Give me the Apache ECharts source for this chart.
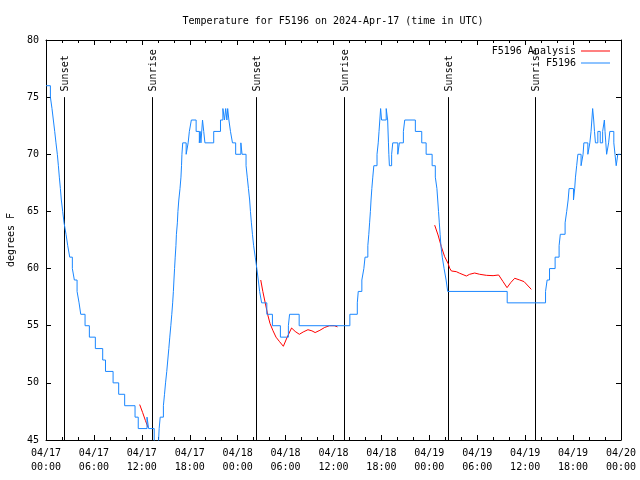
<!DOCTYPE html>
<html><head><meta charset="utf-8">
<script src="https://cdn.jsdelivr.net/npm/echarts@6/dist/echarts.min.js"></script>
<style>html,body{margin:0;padding:0;background:#fff}#c{width:640px;height:480px}</style>
</head><body><div id="c"></div>
<script>
const titleText = 'Temperature for F5196 on 2024-Apr-17 (time in UTC)';
const yAxisName = 'degrees F';
const xTickLabels = ['04/17\n00:00','04/17\n06:00','04/17\n12:00','04/17\n18:00','04/18\n00:00','04/18\n06:00','04/18\n12:00','04/18\n18:00','04/19\n00:00','04/19\n06:00','04/19\n12:00','04/19\n18:00','04/20\n00:00'];

// F5196 observed temperature (hours since 04/17 00:00 UTC, value holds until next time)
const blueHours = [0,0.55,0.75,0.92,1.09,1.25,1.42,1.55,1.67,1.80,1.92,2.09,2.26,2.51,2.72,2.97,3.30,3.55,3.89,4.14,4.35,4.89,5.43,6.18,7.1,7.45,8.4,9.1,9.85,11.15,11.55,12.65,12.85,13.55,13.8,14.1,14.17,14.3,14.7,14.84,14.97,15.12,15.25,15.38,15.5,15.63,15.75,15.86,15.95,16.02,16.1,16.18,16.27,16.33,16.45,16.52,16.63,16.78,16.9,16.97,17.02,17.12,17.55,17.8,17.95,18.2,18.8,19.2,19.3,19.4,19.6,19.75,19.9,21.0,21.85,22.15,22.35,22.5,22.65,22.75,22.9,23.1,23.35,23.75,24.4,24.55,25.05,25.2,25.35,25.5,25.6,25.72,25.85,26.0,26.2,26.4,26.58,26.75,27.0,27.65,28.35,29.35,30.35,30.5,31.7,38.05,38.98,39.1,39.55,39.8,39.95,40.3,40.42,40.52,40.62,40.7,40.8,40.92,41.05,41.45,41.6,41.7,41.8,41.9,42.02,42.6,42.78,42.88,42.93,43.0,43.28,43.42,44.05,44.25,44.75,44.92,46.25,47.05,47.6,48.35,48.75,48.95,49.05,49.15,49.25,49.35,49.45,49.62,49.85,50.1,50.3,57.75,62.55,62.75,63.05,63.75,64.25,64.4,65.0,65.2,65.38,65.5,66.05,66.2,66.3,66.45,66.6,67.0,67.25,67.35,67.85,68.1,68.25,68.35,68.45,68.58,68.68,68.8,69.1,69.4,69.7,69.92,70.0,70.1,70.2,70.45,70.6,71.1,71.25,71.4,71.6,71.95];
const blueTempF = [76,75,74,73,72,71,70,69,68,67,66,65,64,63,62,61,60,59,58,57,56,55,54,53,52,51,50,49,48,47,46,47,46,45,44,45,46,47,48,49,50,51,52,53,54,55,56,57,58,59,60,61,62,63,64,65,66,67,68,69,70,71,70,71,72,73,72,71,72,71,73,72,71,72,73,74,73,74,73,74,73,72,71,70,71,70,69,68,67,66,65,64,63,62,61,60,59,58,57,56,55,54,55,56,55,56,57,58,59,60,61,62,63,64,65,66,67,68,69,70,71,72,73,74,73,74,73,71,70,69,70,71,70,71,72,73,72,71,70,69,68,67,66,65,64,63,62,61,60,59,58,57,58,59,60,61,62,63,64,65,66,67,66,67,68,69,70,69,70,71,70,71,72,73,74,73,72,71,72,71,72,73,72,71,70,71,72,71,70,69,70,70];

// F5196 Analysis segments
const red1Hours = [11.73,12.1,12.45,12.78];
const red1TempF = [48.1,47.4,46.7,46.1];
const red2Hours = [24.8,24.86];
const red2TempF = [68.5,68.5];
const red3Hours = [26.89,27.15,27.45,27.75,28.05,28.4,28.8,29.25,29.72,30.2,30.75,31.2,31.72,32.2,32.8,33.3,33.7,34.3,34.9,35.5,36.1,36.5];
const red3TempF = [59.0,58.0,57.0,56.0,55.2,54.6,54.0,53.6,53.2,54.0,54.8,54.5,54.25,54.45,54.65,54.55,54.4,54.6,54.85,55.0,55.0,54.9];
const red4Hours = [48.67,49.09,49.5,49.92,50.34,50.55,50.76,51.38,51.8,52.22,52.64,53.05,53.68,54.3,55.14,55.98,56.68,57.23,57.73,58.19,58.69,59.32,59.86,60.77];
const red4TempF = [63.8,62.94,61.92,61.04,60.46,60.03,59.79,59.73,59.59,59.47,59.35,59.5,59.61,59.5,59.41,59.38,59.44,58.86,58.33,58.77,59.15,59.0,58.86,58.18];

// Sunrise / sunset markers
const eventHours = [2.25,13.28,26.3,37.3,50.33,61.25];
const eventNames = ['Sunset','Sunrise','Sunset','Sunrise','Sunset','Sunrise'];
const eventLineBottom = 45;
const eventLineTop = 75;
const eventLabelAt = 75.5;

const mono = 'DejaVu Sans Mono';
const blue = '#1a87ff';
const red = '#ff0000';
const pairs = (a, b) => a.map((t, i) => [t, b[i]]);

const series = [];
[[red1Hours, red1TempF], [red2Hours, red2TempF], [red3Hours, red3TempF], [red4Hours, red4TempF]].forEach(([h, f]) => {
  series.push({name: 'F5196 Analysis', type: 'line', data: pairs(h, f), symbol: 'none', showSymbol: false,
    lineStyle: {color: red, width: 1}, itemStyle: {color: red}, z: 3, animation: false});
});
series.push({name: 'F5196', type: 'line', step: 'end', data: pairs(blueHours, blueTempF), symbol: 'none', showSymbol: false,
  lineStyle: {color: blue, width: 1}, itemStyle: {color: blue}, z: 4, animation: false});
series.push({name: 'events', type: 'custom', silent: true, animation: false, z: 2,
  data: eventHours.map(t => [t, eventLineTop]),
  renderItem: (params, api) => {
    const t = api.value(0);
    const top = api.coord([t, eventLineTop]);
    const bot = api.coord([t, eventLineBottom]);
    const lab = api.coord([t, eventLabelAt]);
    const x = Math.round(top[0]) + 0.5;
    return {type: 'group', children: [
      {type: 'line', shape: {x1: x, y1: bot[1], x2: x, y2: top[1]}, style: {stroke: '#000', lineWidth: 1}},
      {type: 'text', x: x + 1, y: lab[1], rotation: Math.PI / 2,
        style: {text: eventNames[params.dataIndex], fontFamily: mono, fontSize: 10, fill: '#000', align: 'left', verticalAlign: 'middle'}}
    ]};
  }
});

const tickStyle = {color: '#000', width: 1};
const xBase = {type: 'value', min: 0, max: 72, interval: 6, gridIndex: 0,
  axisLine: {show: true, onZero: false, lineStyle: tickStyle},
  axisTick: {show: true, inside: true, length: 5, lineStyle: tickStyle},
  minorTick: {show: true, splitNumber: 3, length: 3, lineStyle: tickStyle},
  splitLine: {show: false}, minorSplitLine: {show: false}};
const yBase = {type: 'value', min: 45, max: 80, interval: 5, gridIndex: 0,
  axisLine: {show: true, onZero: false, lineStyle: tickStyle},
  axisTick: {show: true, inside: true, length: 5, lineStyle: tickStyle},
  splitLine: {show: false}};

const legendText = {fontFamily: mono, fontSize: 10, color: '#000'};
const legendCommon = {right: 30, orient: 'vertical', align: 'right', itemWidth: 29, itemHeight: 1, icon: 'rect',
  selectedMode: false, textStyle: legendText, padding: 0};
const option = {
  animation: false,
  backgroundColor: '#fff',
  title: {text: titleText, left: 328, top: 11, textAlign: 'center',
    textStyle: {fontFamily: mono, fontSize: 10, fontWeight: 'normal', color: '#000'}},
  grid: {left: 46, right: 19, top: 40, bottom: 40, containLabel: false, outerBoundsMode: 'none'},
  legend: [
    Object.assign({data: ['F5196 Analysis'], top: 46}, legendCommon),
    Object.assign({data: ['F5196'], top: 58}, legendCommon)
  ],
  xAxis: [
    Object.assign({}, xBase, {position: 'bottom', axisLabel: {show: true, formatter: v => xTickLabels[Math.round(v / 6)],
      fontFamily: mono, fontSize: 10, color: '#000', lineHeight: 14, margin: 6}}),
    Object.assign({}, xBase, {position: 'top', axisLabel: {show: false}})
  ],
  yAxis: [
    Object.assign({}, yBase, {position: 'left', name: yAxisName, nameLocation: 'middle', nameRotate: 90, nameGap: 30,
      nameTextStyle: {fontFamily: mono, fontSize: 10, color: '#000'},
      axisLabel: {show: true, fontFamily: mono, fontSize: 10, color: '#000', margin: 7}}),
    Object.assign({}, yBase, {position: 'right', axisLabel: {show: false}})
  ],
  series: series
};
const chart = echarts.init(document.getElementById('c'), null, {renderer: 'canvas'});
chart.setOption(option);
</script>
</body></html>
